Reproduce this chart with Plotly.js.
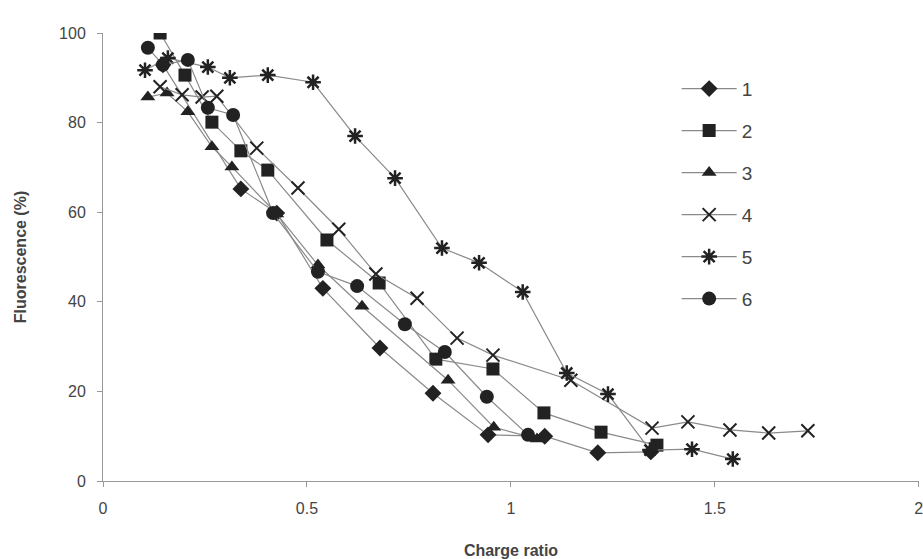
<!DOCTYPE html>
<html>
<head>
<meta charset="utf-8">
<script src="https://cdn.plot.ly/plotly-3.0.1.min.js"></script>
<style>html,body{margin:0;padding:0;background:#fff;}#chart{width:923px;height:559px;}</style>
</head>
<body>
<div id="chart"></div>
<script>
// Series names
const seriesNames = ["1", "2", "3", "4", "5", "6"];

// Series 1 (diamonds)
const x1 = [0.147, 0.338, 0.426, 0.539, 0.679, 0.809, 0.944, 1.083, 1.213, 1.343];
const y1 = [92.9, 65.2, 59.8, 43.0, 29.7, 19.6, 10.3, 10.0, 6.3, 6.5];

// Series 2 (squares)
const x2 = [0.140, 0.201, 0.267, 0.338, 0.404, 0.549, 0.677, 0.816, 0.956, 1.081, 1.221, 1.358];
const y2 = [100.0, 90.6, 80.1, 73.7, 69.4, 53.8, 44.2, 27.2, 25.0, 15.2, 10.9, 8.0];

// Series 3 (triangles)
const x3 = [0.110, 0.157, 0.208, 0.267, 0.316, 0.426, 0.527, 0.635, 0.846, 0.958, 1.064];
const y3 = [85.7, 86.6, 82.4, 74.6, 70.1, 59.6, 48.2, 39.0, 22.5, 12.0, 9.4];

// Series 4 (crosses)
const x4 = [0.140, 0.194, 0.243, 0.279, 0.377, 0.478, 0.578, 0.669, 0.770, 0.868, 0.956, 1.147, 1.346, 1.434, 1.537, 1.632, 1.728];
const y4 = [88.0, 86.2, 85.7, 85.9, 74.3, 65.4, 56.2, 46.2, 40.8, 31.9, 28.1, 22.5, 11.8, 13.2, 11.4, 10.7, 11.2];

// Series 5 (asterisks)
const x5 = [0.103, 0.159, 0.257, 0.311, 0.404, 0.515, 0.618, 0.716, 0.831, 0.922, 1.029, 1.137, 1.238, 1.341, 1.444, 1.544];
const y5 = [91.7, 94.4, 92.4, 90.0, 90.6, 89.0, 77.0, 67.6, 52.0, 48.7, 42.2, 24.1, 19.4, 6.9, 7.1, 4.9];

// Series 6 (circles)
const x6 = [0.110, 0.147, 0.208, 0.257, 0.319, 0.417, 0.527, 0.623, 0.740, 0.838, 0.941, 1.042];
const y6 = [96.7, 92.9, 94.0, 83.3, 81.7, 59.8, 46.7, 43.5, 35.0, 28.8, 18.8, 10.3];

const xTicks = [0, 0.5, 1, 1.5, 2];
const xTickText = ["0", "0.5", "1", "1.5", "2"];
const yTicks = [0, 20, 40, 60, 80, 100];

const xs = [x1, x2, x3, x4, x5, x6];
const ys = [y1, y2, y3, y4, y5, y6];
const symbols = ["diamond", "square", "triangle-up", "x-thin-open", "asterisk-open", "circle"];
const sizes = [13, 13, 13, 13, 13, 14];

const traces = xs.map((xv, i) => ({
  type: "scatter",
  mode: "lines+markers",
  x: xv,
  y: ys[i],
  name: seriesNames[i],
  legendgroup: "g" + i,
  line: {color: "#8a8a8a", width: 1.2},
  marker: {
    symbol: symbols[i],
    size: sizes[i],
    color: "#222",
    line: {color: "#222", width: (i === 3 ? 2 : (i === 4 ? 2.5 : 0))}
  }
}));

const layout = {
  width: 923, height: 559,
  paper_bgcolor: "#fff", plot_bgcolor: "#fff",
  margin: {l: 103, r: 4, t: 33, b: 78},
  font: {family: "Liberation Sans, Arial, sans-serif", color: "#444", size: 16},
  showlegend: true,
  legend: {
    x: 0.703, y: 0.918, xanchor: "left", yanchor: "top",
    font: {size: 19, color: "#444"},
    tracegroupgap: 14.3,
    itemwidth: 55,
    bgcolor: "rgba(0,0,0,0)"
  },
  xaxis: {
    range: [0, 2.0005], tickvals: xTicks, ticktext: xTickText,
    showgrid: false, zeroline: false,
    showline: true, linecolor: "#999", linewidth: 1,
    ticks: "outside", ticklen: 5, tickcolor: "#999",
    ticklabelstandoff: 8,
    ticklabeloverflow: "allow",
    tickfont: {size: 16, color: "#444"},
    title: {text: "<b>Charge ratio</b>", font: {size: 16, color: "#444"}, standoff: 28}
  },
  yaxis: {
    range: [0, 100], tickvals: yTicks,
    showgrid: false, zeroline: false,
    showline: true, linecolor: "#999", linewidth: 1,
    ticks: "outside", ticklen: 5, tickcolor: "#999",
    ticklabelstandoff: 8,
    tickfont: {size: 16, color: "#444"},
    title: {text: "<b>Fluorescence (%)</b>", font: {size: 16, color: "#444"}, standoff: 28}
  }
};

Plotly.newPlot("chart", traces, layout, {displayModeBar: false, staticPlot: true});
</script>
</body>
</html>
